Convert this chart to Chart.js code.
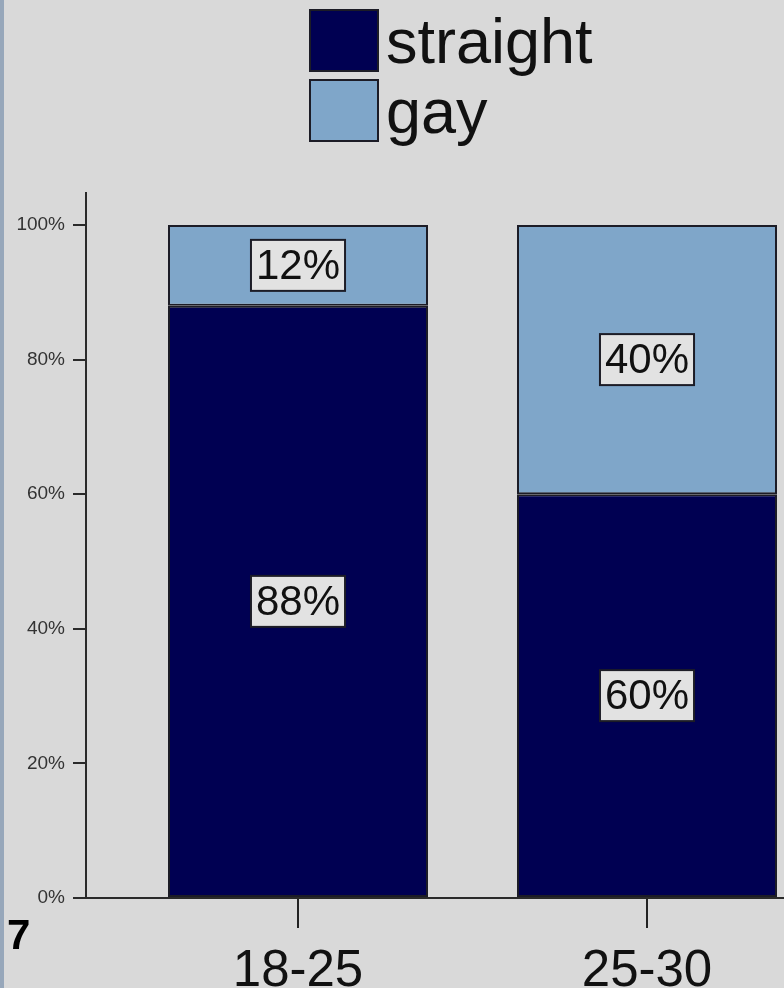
<!DOCTYPE html>
<html>
<head>
<meta charset="utf-8">
<title>Age groups</title>
<script src="https://cdn.jsdelivr.net/npm/chart.js@4.4.1/dist/chart.umd.min.js"></script>
<style>
    body { margin: 0; background: #d9d9d9; overflow: hidden; }
    #wrap { position: relative; width: 784px; height: 988px; }
    #strip { position: absolute; left: 0; top: 0; width: 4px; height: 988px; background: #97a7ba; }
    #stray { position: absolute; left: 7px; top: 911px; line-height: 42px; font: bold 42px "Liberation Sans", Arial, sans-serif; color: #000; }
</style>
</head>
<body>
<div id="wrap">
    <canvas id="ageChart" width="784" height="988"></canvas>
    <div id="strip"></div>
    <div id="stray">7</div>
</div>
<script>
const categories = ['18-25', '25-30'];
const straightValues = [88, 60];
const gayValues = [12, 40];
const yTicks = [0, 20, 40, 60, 80, 100];

const FONT = '"Liberation Sans", Arial, sans-serif';

// boxed percentage labels in the middle of each segment
const barLabels = {
    id: 'barLabels',
    afterDatasetsDraw(chart) {
        const ctx = chart.ctx;
        ctx.save();
        ctx.font = '42px ' + FONT;
        ctx.textAlign = 'center';
        ctx.textBaseline = 'middle';
        chart.data.datasets.forEach((ds, i) => {
            chart.getDatasetMeta(i).data.forEach((bar, j) => {
                const text = ds.data[j].y + '%';
                const cx = bar.x;
                const cy = (bar.y + bar.base) / 2;
                const w = ctx.measureText(text).width + 10;
                const h = 51;
                ctx.fillStyle = '#e2e2e2';
                ctx.fillRect(cx - w / 2, cy - h / 2, w, h);
                ctx.lineWidth = 2;
                ctx.strokeStyle = '#1c1c26';
                ctx.strokeRect(cx - w / 2, cy - h / 2, w, h);
                ctx.fillStyle = '#111';
                ctx.fillText(text, cx, cy + 2);
            });
        });
        ctx.restore();
    }
};

// legend stacked in one column above the plot
const columnLegend = {
    id: 'columnLegend',
    afterDraw(chart) {
        const ctx = chart.ctx;
        ctx.save();
        ctx.font = '63px ' + FONT;
        ctx.textAlign = 'left';
        ctx.textBaseline = 'alphabetic';
        chart.data.datasets.forEach((ds, i) => {
            const top = 10 + i * 70;
            ctx.fillStyle = ds.backgroundColor;
            ctx.fillRect(310, top, 68, 61);
            ctx.lineWidth = 2;
            ctx.strokeStyle = '#1c1c26';
            ctx.strokeRect(310, top, 68, 61);
            ctx.fillStyle = '#111';
            ctx.fillText(ds.label, 386, top + 53);
        });
        ctx.restore();
    }
};

const ctx = document.getElementById('ageChart').getContext('2d');
new Chart(ctx, {
    type: 'bar',
    data: {
        datasets: [{
            label: 'straight',
            data: straightValues.map((v, i) => ({ x: i, y: v })),
            backgroundColor: '#000052',
            borderColor: '#1c1c26',
            borderWidth: 2,
            borderSkipped: false
        }, {
            label: 'gay',
            data: gayValues.map((v, i) => ({ x: i, y: v })),
            backgroundColor: '#7fa6c9',
            borderColor: '#1c1c26',
            borderWidth: 2,
            borderSkipped: false
        }]
    },
    options: {
        responsive: false,
        animation: false,
        categoryPercentage: 1,
        barPercentage: 0.745,
        layout: { padding: { top: 193, left: 0, right: 0, bottom: 0 } },
        plugins: {
            legend: { display: false },
            tooltip: { enabled: false }
        },
        scales: {
            x: {
                type: 'linear',
                stacked: true,
                offset: false,
                min: -0.60745,
                max: 1.39255,
                afterBuildTicks: function(scale) {
                    scale.ticks = categories.map((c, i) => ({ value: i }));
                },
                afterFit: function(scale) {
                    scale.height = 90;
                },
                grid: {
                    offset: false,
                    drawOnChartArea: false,
                    drawTicks: true,
                    tickLength: 30,
                    color: '#222',
                    lineWidth: 2
                },
                border: { color: '#2a2a2a', width: 2 },
                ticks: {
                    maxRotation: 0,
                    padding: 13,
                    color: '#111',
                    font: { family: FONT, size: 51 },
                    callback: function(value) {
                        return categories[value];
                    }
                }
            },
            y: {
                stacked: true,
                min: 0,
                max: 104.755,
                afterBuildTicks: function(scale) {
                    scale.ticks = yTicks.map(v => ({ value: v }));
                },
                afterFit: function(scale) {
                    scale.width = 86;
                },
                grid: {
                    drawOnChartArea: false,
                    drawTicks: true,
                    tickLength: 13,
                    color: '#2a2a2a',
                    lineWidth: 2
                },
                border: { color: '#2a2a2a', width: 2 },
                ticks: {
                    padding: 8,
                    color: '#333',
                    font: { family: FONT, size: 19 },
                    callback: function(value) {
                        return value + '%';
                    }
                }
            }
        }
    },
    plugins: [barLabels, columnLegend]
});
</script>
</body>
</html>
